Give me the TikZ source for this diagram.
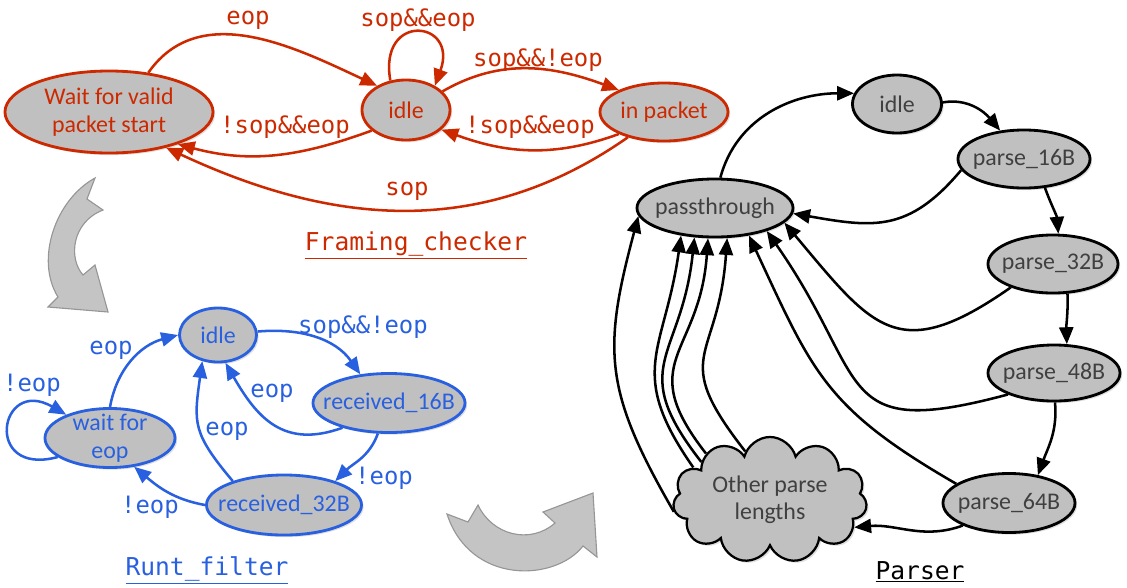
\documentclass[tikz,border=0pt]{standalone}
\usepackage{fontspec}
\setmainfont{Carlito}
\newfontfamily\monofont{DejaVu Sans Mono}
\usetikzlibrary{positioning,shapes,arrows.meta,shadows}

\definecolor{fcred}{RGB}{204,41,0}
\definecolor{rfblue}{RGB}{40,96,224}
\definecolor{stategray}{RGB}{192,192,192}
\definecolor{pstext}{RGB}{64,64,64}
\definecolor{bigarrow}{RGB}{196,196,196}
\definecolor{bigarrowline}{RGB}{150,150,150}

\tikzset{
  state/.style={ellipse, draw, fill=stategray, line width=2pt, inner xsep=-14pt, inner ysep=-5pt,
    align=center, font=\fontsize{17}{19.5}\selectfont,
    drop shadow={shadow xshift=1.5pt, shadow yshift=-1.5pt, opacity=0.25}},
  fcstate/.style={state, draw=fcred, text=fcred},
  rfstate/.style={state, draw=rfblue, text=rfblue},
  psstate/.style={state, draw=black, text=pstext},
  tr/.style={line width=1.8pt, -{Triangle[length=12pt,width=10pt]}},
  lbl/.style={font=\monofont\fontsize{17}{19}\selectfont, inner sep=0pt},
  ttl/.style={font=\monofont\fontsize{17.5}{20}\selectfont, inner sep=0pt},
}

\begin{document}
\begin{tikzpicture}[x=0.025cm, y=0.025cm]
  \useasboundingbox (0,0) rectangle (1127,-587);

  % framing checker
  \node[fcstate, minimum width=5.2cm, minimum height=2.05cm] (fw) at (109,-112) {Wait for valid\\packet start};
  \node[fcstate, minimum width=2.2cm, minimum height=1.5cm] (fi) at (406,-110) {idle};
  \node[fcstate, minimum width=3.2cm, minimum height=1.45cm] (fp) at (664,-112) {in packet};

  \draw[tr, fcred] (fw.45) to[out=55,in=155] (fi.140) node[lbl] (fl-eop) at (248,-20) {eop};
  \draw[tr, fcred] (fi.118) to[out=100,in=70,looseness=4] (fi.40) node[lbl] (fl-se) at (418,-20) {sop\&\&eop};
  \draw[tr, fcred] (fi.27) to[out=30,in=160] (fp.154) node[lbl] (fl-snp) at (538,-60) {sop\&\&!eop};
  \draw[tr, fcred] (fp.206) to[out=200,in=340] (fi.331) node[lbl] (fl-nse1) at (530,-127) {!sop\&\&eop};
  \draw[tr, fcred] (fi.211) to[out=200,in=345] (fw.335) node[lbl] (fl-nse2) at (285,-127) {!sop\&\&eop};
  \draw[tr, fcred] (fp.215) to[out=215,in=335] (fw.328) node[lbl] (fl-sop) at (407,-191) {sop};

  \node[ttl, text=fcred] (fc-title) at (416,-245) {\underline{Framing\_checker}};

  % runt filter
  \node[rfstate, minimum width=1.925cm, minimum height=1.35cm] (bi) at (218,-335) {idle};
  \node[rfstate, minimum width=3.8cm, minimum height=1.475cm] (b16) at (389,-403) {received\_16B};
  \node[rfstate, minimum width=3.25cm, minimum height=1.475cm] (bw) at (110,-438) {wait for\\eop};
  \node[rfstate, minimum width=3.875cm, minimum height=1.5cm] (b32) at (284,-505) {received\_32B};

  \draw[tr, rfblue] (bi.5) to[out=5,in=125] (b16.135) node[lbl] (rl-snp) at (363,-327) {sop\&\&!eop};
  \draw[tr, rfblue] (b16.208) to[out=200,in=300,looseness=1.2] (bi.285) node[lbl] (rl-eop1) at (272,-393) {eop};
  \draw[tr, rfblue] (b16.250) to[out=250,in=45] (b32.25) node[lbl] (rl-neop1) at (384,-478) {!eop};
  \draw[tr, rfblue] (b32.155) to[out=130,in=262,looseness=1.3] (bi.239) node[lbl] (rl-eop2) at (227,-431) {eop};
  \draw[tr, rfblue] (b32.180) to[out=170,in=320] (bw.310) node[lbl] (rl-neop2) at (150,-507) {!eop};
  \draw[tr, rfblue] (bw.90) to[out=80,in=195] (bi.180) node[lbl] (rl-eop3) at (111,-350) {eop};
  \draw[tr, rfblue] (bw.200) to[out=195,in=150,looseness=4.6] (bw.152) node[lbl] (rl-neop3) at (32,-385) {!eop};

  \node[ttl, text=rfblue] (rf-title) at (207,-570) {\underline{Runt\_filter}};

  % parser
  \node[psstate, minimum width=2.225cm, minimum height=1.45cm] (pi) at (897,-104) {idle};
  \node[psstate, minimum width=3.3cm, minimum height=1.45cm] (p16) at (1024,-159) {parse\_16B};
  \node[psstate, minimum width=3.9cm, minimum height=1.45cm] (pt) at (715,-208) {passthrough};
  \node[psstate, minimum width=3.25cm, minimum height=1.45cm] (p32) at (1053,-264) {parse\_32B};
  \node[psstate, minimum width=3.3cm, minimum height=1.4cm] (p48) at (1054,-373) {parse\_48B};
  \node[psstate, minimum width=3.3cm, minimum height=1.475cm] (p64) at (1009,-503) {parse\_64B};
  \node[psstate, cloud, cloud puffs=11, aspect=1.6, line width=1.6pt, minimum width=4.85cm, minimum height=3.15cm] (cl) at (770,-500) {Other parse\\lengths};

  \draw[tr] (pt.80) to[out=75,in=180] (pi.166);
  \draw[tr] (pi.2) to[out=10,in=130] (p16.130);
  \draw[tr] (p16.190) to[out=230,in=-10,looseness=1.2] (pt.356);
  \draw[tr] (p16.306) to[out=-70,in=95] (p32.80);
  \draw[tr] (p32.209) to[out=215,in=310,looseness=1.5] (pt.348);
  \draw[tr] (p32.296) to[out=-88,in=92] (p48.66);
  \draw[tr] (p48.205) to[out=195,in=305,looseness=1.6] (pt.336);
  \draw[tr] (p48.272) to[out=-85,in=70] (p64.44);
  \draw[tr] (p64.160) to[out=150,in=295,looseness=1.2] (pt.321);
  \draw[tr] (p64.206) to[out=200,in=5] (cl.-18);
  \foreach \from/\to/\o/\i/\l in {187/186/120/255/1.2, 157/219/125/262/1.3, 151/235/128/264/1.4, 144/257/128/266/1.4, 117/292/128/266/1.5}
    \draw[tr] (cl.\from) to[out=\o,in=\i,looseness=\l] (pt.\to);

  \node[ttl] (ps-title) at (920,-572) {\underline{Parser}};

  % big gray arrows
  \draw[bigarrowline, fill=bigarrow, line width=0.8pt] (95,-178) .. controls (55,-200) and (35,-260) .. (58,-297)
    -- (48,-307) -- (108,-312) -- (95,-265) -- (83,-275) .. controls (68,-258) and (72,-222) .. (103,-210)
    -- (87,-199) -- cycle;
  \draw[bigarrowline, fill=bigarrow, line width=0.8pt] (447,-514) -- (468,-522) -- (478,-505)
    .. controls (492,-535) and (530,-545) .. (555,-523) -- (543,-512) -- (593,-493) -- (597,-557) -- (583,-546)
    .. controls (555,-582) and (470,-585) .. (447,-514) -- cycle;
\end{tikzpicture}
\end{document}
